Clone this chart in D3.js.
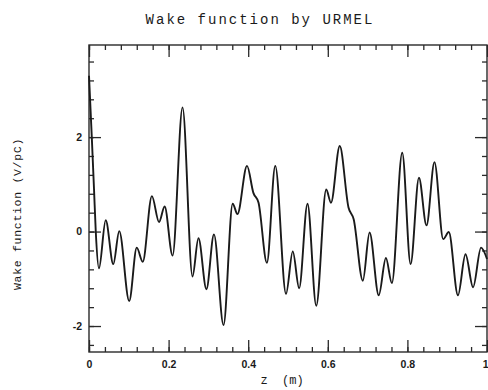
<!DOCTYPE html>
<html>
<head>
<meta charset="utf-8">
<script src="https://cdn.jsdelivr.net/npm/d3@7"></script>
<style>
  body { margin: 0; background: #fff; }
  svg { display: block; }
</style>
</head>
<body>
<div id="chart"></div>
<script>
// wake function samples (z in m, W in V/pC)
var zData = [0, 0.007, 0.0126, 0.017, 0.025, 0.042, 0.061, 0.076, 0.101, 0.12,
  0.135, 0.158, 0.176, 0.19, 0.21, 0.235, 0.26, 0.275, 0.295, 0.314,
  0.338, 0.361, 0.373, 0.397, 0.413, 0.426, 0.447, 0.468, 0.495, 0.512,
  0.528, 0.549, 0.571, 0.596, 0.608, 0.63, 0.652, 0.665, 0.688, 0.705,
  0.728, 0.746, 0.761, 0.787, 0.808, 0.829, 0.848, 0.868, 0.89, 0.904,
  0.927, 0.946, 0.965, 0.985, 1.0];
var wData = [3.3, 2.0, 0.9, 0, -0.78, 0.24, -0.69, 0.01, -1.47, -0.34,
  -0.64, 0.75, 0.2, 0.53, -0.51, 2.63, -0.95, -0.14, -1.22, -0.06,
  -1.98, 0.59, 0.37, 1.39, 0.82, 0.61, -0.66, 1.39, -1.32, -0.42,
  -1.2, 0.59, -1.57, 0.89, 0.61, 1.81, 0.51, 0.26, -1.04, -0.02,
  -1.35, -0.56, -1.09, 1.67, -0.69, 1.14, 0.13, 1.47, -0.16, -0.01,
  -1.35, -0.48, -1.18, -0.34, -0.58];

var xTicks = [0, 0.2, 0.4, 0.6, 0.8, 1];
var xTickLabels = ["0", "0.2", "0.4", "0.6", "0.8", "1"];
var yTicks = [-2, 0, 2];
var yTickLabels = ["-2", "0", "2"];

var width = 488, height = 390;
var frame = {left: 89, right: 487, top: 45, bottom: 352};

var svg = d3.select("#chart").append("svg")
  .attr("width", width)
  .attr("height", height);

var x = d3.scaleLinear().domain([0, 1]).range([frame.left, frame.right]);
var y = d3.scaleLinear().domain([-2.55, 3.95]).range([frame.bottom, frame.top]);

var xMinor = d3.range(0, 26).map(i => +(i * 0.04).toFixed(2));
var yMinor = d3.range(-6, 10).map(i => +(i * 0.4).toFixed(1));

var tickFont = "Liberation Sans, Arial, sans-serif";
var monoFont = "Liberation Mono, DejaVu Sans Mono, monospace";

// helper to draw one set of ticks
function drawAxis(axis, tx, ty) {
  var g = svg.append("g")
    .attr("transform", "translate(" + tx + "," + ty + ")")
    .call(axis);
  g.select(".domain").remove();
  g.selectAll("line").attr("stroke", "#2a2a2a").attr("stroke-width", 1.3);
  g.selectAll("text")
    .attr("fill", "#1a1a1a")
    .style("font-family", tickFont)
    .style("font-weight", "bold")
    .style("font-size", "10.5px");
  return g;
}

// bottom
drawAxis(d3.axisBottom(x).tickValues(xMinor).tickSize(-5).tickFormat(""), 0, frame.bottom);
var xAxisG = drawAxis(d3.axisBottom(x).tickValues(xTicks).tickSize(-12).tickPadding(9)
  .tickFormat((d, i) => xTickLabels[i]), 0, frame.bottom);
// last label sits at the page edge, keep it inside
xAxisG.selectAll("text").filter(d => d === 1)
  .attr("text-anchor", "end")
  .attr("x", 1);
// top
drawAxis(d3.axisTop(x).tickValues(xMinor).tickSize(-5).tickFormat(""), 0, frame.top);
drawAxis(d3.axisTop(x).tickValues(xTicks).tickSize(-12).tickFormat(""), 0, frame.top);
// left
drawAxis(d3.axisLeft(y).tickValues(yMinor).tickSize(-5).tickFormat(""), frame.left, 0);
drawAxis(d3.axisLeft(y).tickValues(yTicks).tickSize(-12).tickPadding(7)
  .tickFormat((d, i) => yTickLabels[i]), frame.left, 0);
// right
drawAxis(d3.axisRight(y).tickValues(yMinor).tickSize(-5).tickFormat(""), frame.right, 0);
drawAxis(d3.axisRight(y).tickValues(yTicks).tickSize(-12).tickFormat(""), frame.right, 0);

// frame
svg.append("rect")
  .attr("x", frame.left)
  .attr("y", frame.top)
  .attr("width", frame.right - frame.left)
  .attr("height", frame.bottom - frame.top)
  .attr("fill", "none")
  .attr("stroke", "#2a2a2a")
  .attr("stroke-width", 1.4);

// the curve
var pts = zData.map((z, i) => [z, wData[i]]);
var line = d3.line()
  .x(d => x(d[0]))
  .y(d => y(d[1]))
  .curve(d3.curveMonotoneX);

svg.append("path")
  .datum(pts)
  .attr("d", line)
  .attr("fill", "none")
  .attr("stroke", "#1a1a1a")
  .attr("stroke-width", 1.9)
  .attr("stroke-linejoin", "round");

// title and axis labels
svg.append("text")
  .attr("x", 260)
  .attr("y", 24)
  .attr("text-anchor", "middle")
  .style("font-family", monoFont)
  .style("font-size", "14px")
  .style("letter-spacing", "2px")
  .attr("fill", "#1a1a1a")
  .text("Wake function by URMEL");

svg.append("text")
  .attr("x", 282)
  .attr("y", 384)
  .attr("text-anchor", "middle")
  .style("font-family", monoFont)
  .style("font-size", "12px")
  .style("white-space", "pre")
  .attr("fill", "#1a1a1a")
  .text("z  (m)");

svg.append("text")
  .attr("transform", "translate(21,214) rotate(-90)")
  .attr("text-anchor", "middle")
  .style("font-family", monoFont)
  .style("font-size", "11.5px")
  .style("letter-spacing", "0.7px")
  .attr("fill", "#1a1a1a")
  .text("Wake function (V/pC)");
</script>
</body>
</html>
